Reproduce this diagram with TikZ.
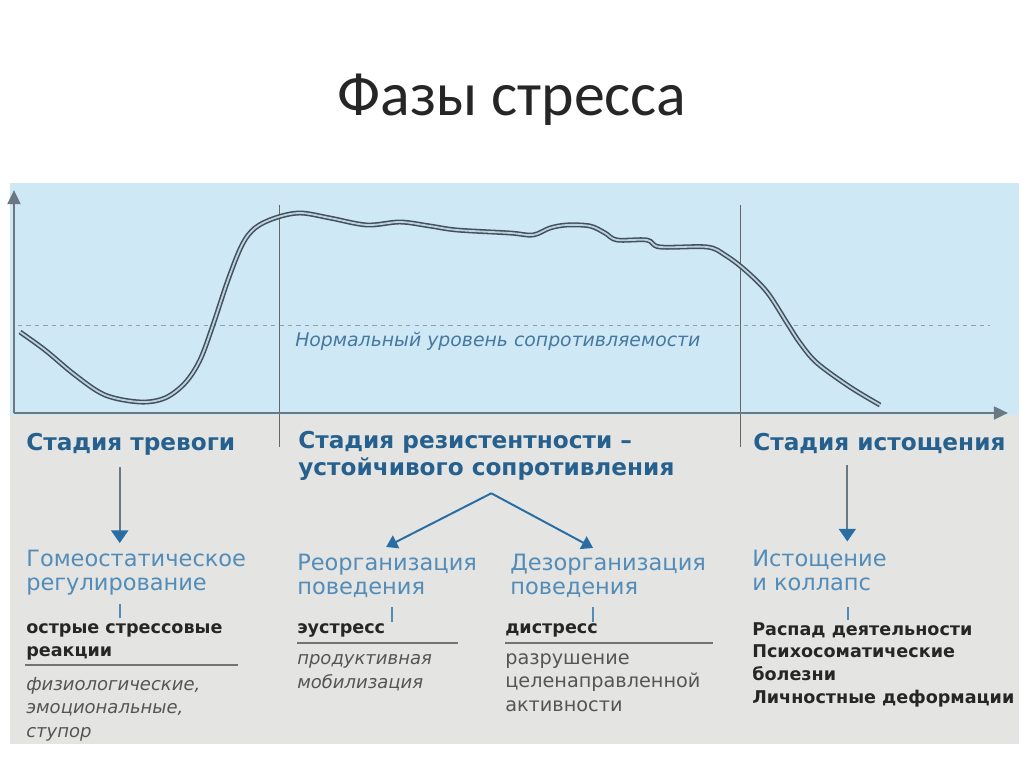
\documentclass[tikz,border=0pt]{standalone}
\usepackage{fontspec}
\setmainfont{DejaVu Sans}
\newfontfamily\titlefont{Carlito}
\usetikzlibrary{arrows.meta}

\definecolor{chartblue}{RGB}{206,232,246}
\definecolor{panelgray}{RGB}{228,228,226}
\definecolor{axisgray}{RGB}{105,120,130}
\definecolor{curvedark}{RGB}{68,80,90}
\definecolor{curvelight}{RGB}{185,210,226}
\definecolor{stageblue}{RGB}{38,96,142}
\definecolor{phaseblue}{RGB}{82,140,185}
\definecolor{notegray}{RGB}{85,85,85}
\definecolor{arrowblue}{RGB}{40,110,165}

\begin{document}
\begin{tikzpicture}[x=0.025cm, y=-0.025cm,
  stage/.style={anchor=base west, inner sep=0, align=left, text=stageblue,
    font=\fontsize{16.5}{19.2}\selectfont\bfseries},
  phase/.style={anchor=base west, inner sep=0, align=left, text=phaseblue,
    font=\fontsize{16}{16.6}\selectfont},
  effect/.style={anchor=base west, inner sep=0, align=left, text=black!85,
    font=\fontsize{12.5}{16.1}\selectfont\bfseries},
  note/.style={anchor=base west, inner sep=0, align=left, text=notegray,
    font=\fontsize{12.8}{16.7}\selectfont\itshape},
  down/.style={draw=axisgray, line width=1.6pt,
    -{Triangle[width=12pt,length=9pt,color=arrowblue]}},
  branch/.style={draw=arrowblue, line width=1.4pt,
    -{Triangle[width=10pt,length=8pt]}},
  tick/.style={draw=phaseblue, line width=1.5pt},
  rule/.style={draw=black!55, line width=0.8pt}]

  \useasboundingbox (0,0) rectangle (1024,767);

  % --- TITLE ---
  \node[font=\titlefont\fontsize{44}{48}\selectfont, text=black!85] (title) at (512,100) {Фазы стресса};

  % panels
  \fill[chartblue] (10,183) rectangle (1019,415);
  \fill[panelgray] (10,415) rectangle (1019,744);

  % normal level
  \draw[axisgray!70, dashed, line width=0.6pt] (18,325) -- (990,325);
  \node[anchor=base west, inner sep=0, text=stageblue!85,
    font=\fontsize{13.4}{15}\selectfont\itshape] (normlabel) at (295,346) {Нормальный уровень сопротивляемости};

  % stage borders
  \draw[black!60, line width=0.6pt] (279,205) -- (279,447);
  \draw[black!60, line width=0.6pt] (740,205) -- (740,447);

  % axes
  \draw[axisgray, line width=2pt, -{Triangle[width=9pt,length=10pt]}] (14,413) -- (14,190);
  \draw[axisgray, line width=2pt, -{Triangle[width=9pt,length=10pt]}] (14,413) -- (1008,413);

  % resistance curve
  \draw[curvedark, line width=1.1pt, double=curvelight, double distance=1.3pt]
    plot[smooth, tension=0.55] coordinates {(20,332) (45,350) (75,375) (105,395) (140,402)
      (165,398) (185,383) (200,360) (213,325) (228,280) (242,245) (255,228) (275,218)
      (300,213) (330,218) (367,225) (400,222) (430,226) (457,230) (510,233) (533,235)
      (550,228) (567,225) (590,226) (605,233) (617,240) (647,240) (660,247) (707,247)
      (725,255) (745,270) (767,292) (787,323) (800,343) (817,363) (850,387) (880,405)};

  % --- STAGES ---
  \node[stage] (alarm) at (26,450) {Стадия тревоги};
  \node[stage] (resist) at (298,475) {Стадия резистентности –\\устойчивого сопротивления};
  \node[stage] (exhaust) at (753,450) {Стадия истощения};

  % --- PHASES ---
  \node[phase] (homeo) at (26,590) {Гомеостатическое\\регулирование};
  \node[phase] (reorg) at (297,594) {Реорганизация\\поведения};
  \node[phase] (disorg) at (510,594) {Дезорганизация\\поведения};
  \node[phase] (collapse) at (752,590) {Истощение\\и коллапс};

  \draw[down] ([shift={(-11,12)}]alarm.south) -- ++(0,76);
  \draw[down] ([shift={(-32,12)}]exhaust.south) -- ++(0,76);
  \draw[branch] ([shift={(5,13)}]resist.south) -- ([shift={(-1,-7)}]reorg.north);
  \draw[branch] ([shift={(5,13)}]resist.south) -- ([shift={(-15,-6)}]disorg.north);

  % --- EFFECTS ---
  \node[effect] (acute) at (26,656) {острые стрессовые\\реакции};
  \node[effect] (eustress) at (297,633) {эустресс};
  \node[effect] (distress) at (505,633) {дистресс};
  \node[effect] (decay) at (752,703) {Распад деятельности\\Психосоматические\\болезни\\Личностные деформации};

  \draw[tick] (120,604) -- (120,618);
  \draw[tick] (392,607) -- (392,622);
  \draw[tick] (593,607) -- (593,622);
  \draw[tick] (848,607) -- (848,620);

  \draw[rule] (25,665) -- (238,665);
  \draw[rule] (297,643) -- (458,643);
  \draw[rule] (505,643) -- (713,643);

  \node[note] (acutenote) at (26,737) {физиологические,\\эмоциональные,\\ступор};
  \node[note] (eunote) at (297,688) {продуктивная\\мобилизация};
  \node[note, font=\fontsize{13.7}{16.5}\selectfont] (disnote) at (505,711) {разрушение\\целенаправленной\\активности};
\end{tikzpicture}
\end{document}
